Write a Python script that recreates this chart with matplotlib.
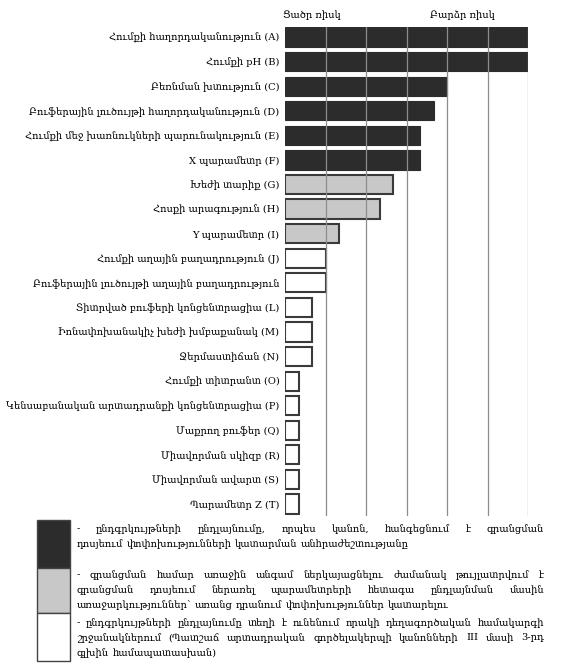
import matplotlib
matplotlib.use('Agg')
import matplotlib.pyplot as plt
from matplotlib.patches import Rectangle

plt.rcParams['font.family'] = ['DejaVu Serif', 'DejaVu Sans']

# պարամետրերը և ռիսկի գնահատականները
labels = [
    'Հումքի հաղորդականություն (A)',
    'Հումքի pH (B)',
    'Բեռնման խտություն (C)',
    'Բուֆերային լուծույթի հաղորդականություն (D)',
    'Հումքի մեջ խառնուկների պարունակություն (E)',
    'X պարամետր (F)',
    'Խեժի տարիք (G)',
    'Հոսքի արագություն (H)',
    'Y պարամետր (I)',
    'Հումքի աղային բաղադրություն (J)',
    'Բուֆերային լուծույթի աղային բաղադրություն',
    'Տիտրված բուֆերի կոնցենտրացիա (L)',
    'Իոնափոխանակիչ խեժի խմբաքանակ (M)',
    'Ջերմաստիճան (N)',
    'Հումքի տիտրանտ (O)',
    'Կենսաբանական արտադրանքի կոնցենտրացիա (P)',
    'Մաքրող բուֆեր (Q)',
    'Միավորման սկիզբ (R)',
    'Միավորման ավարտ (S)',
    'Պարամետր Z (T)',
]
scores = [18, 18, 12, 11, 10, 10, 8, 7, 4, 3, 3, 2, 2, 2, 1, 1, 1, 1, 1, 1]
levels = ['high'] * 6 + ['mid'] * 3 + ['low'] * 11

face = {'high': '#2c2c2c', 'mid': '#c8c8c8', 'low': 'white'}
edge = {'high': '#2c2c2c', 'mid': '#3a3a3a', 'low': '#3a3a3a'}

low_risk = 'Ցածր ռիսկ'
high_risk = 'Բարձր ռիսկ'

legend_blocks = [
    ['- ընդգրկույթների ընդլայնումը, որպես կանոն, հանգեցնում է գրանցման',
     'դոսյեում փոփոխությունների կատարման անհրաժեշտությանը'],
    ['- գրանցման համար առաջին անգամ ներկայացնելու ժամանակ թույլատրվում է',
     'գրանցման դոսյեում ներառել պարամետրերի հետագա ընդլայնման մասին',
     'առաջարկություններ՝ առանց դրանում փոփոխություններ կատարելու'],
    ['- ընդգրկույթների ընդլայնումը տեղի է ունենում որակի դեղագործական համակարգի',
     'շրջանակներում (Պատշաճ արտադրական գործելակերպի կանոնների III մասի 3-րդ',
     'գլխին համապատասխան)'],
]

W, H = 561, 668
fs = 7.1
fig = plt.figure(figsize=(W / 100, H / 100), dpi=100)
ax = fig.add_axes([285 / W, 1 - 516.3 / H, 243 / W, 489.1 / H])

ypos = range(len(labels))
ax.barh(ypos, scores, height=0.78,
        color=[face[l] for l in levels],
        edgecolor=[edge[l] for l in levels],
        linewidth=[0.8 if l == 'high' else 1.5 for l in levels])
ax.set_xlim(0, 18)
ax.set_ylim(19.5, -0.4)
ax.set_xticks(range(3, 19, 3))
ax.grid(axis='x', color='#8c8c8c', linewidth=0.9)
ax.set_axisbelow(False)
ax.tick_params(axis='x', length=0, labelbottom=False)
ax.set_yticks(list(ypos))
ax.set_yticklabels(labels, fontsize=fs)
ax.tick_params(axis='y', length=0, pad=4)
for s in ax.spines.values():
    s.set_visible(False)

fig.text(283 / W, 1 - 15 / H, low_risk, fontsize=fs, va='center')
fig.text(430 / W, 1 - 15 / H, high_risk, fontsize=fs, va='center')

# լեգենդ
lax = fig.add_axes([0, 0, 1, 1])
lax.set_xlim(0, W)
lax.set_ylim(H, 0)
lax.axis('off')

boxes = [(520, 568, 'high'), (568, 613, 'mid'), (613, 661, 'low')]
for y0, y1, lv in boxes:
    lax.add_patch(Rectangle((37, y0), 33, y1 - y0, facecolor=face[lv],
                            edgecolor='#444444', linewidth=1.0))

renderer = fig.canvas.get_renderer()
x0, x1 = 77, 544
line_h = 15
starts = [529, 575, 623]
for block, ys in zip(legend_blocks, starts):
    for i, line in enumerate(block):
        y = ys + i * line_h
        words = line.split(' ')
        txts = [lax.text(0, y, w, fontsize=fs, va='center') for w in words]
        widths = [t.get_window_extent(renderer).width for t in txts]
        last = i == len(block) - 1
        if last or len(words) == 1:
            gap = fs * 0.33 * 100 / 72
        else:
            gap = (x1 - x0 - sum(widths)) / (len(words) - 1)
        x = x0
        for t, w in zip(txts, widths):
            t.set_x(x)
            x += w + gap

fig.savefig('out.png', dpi=100)
